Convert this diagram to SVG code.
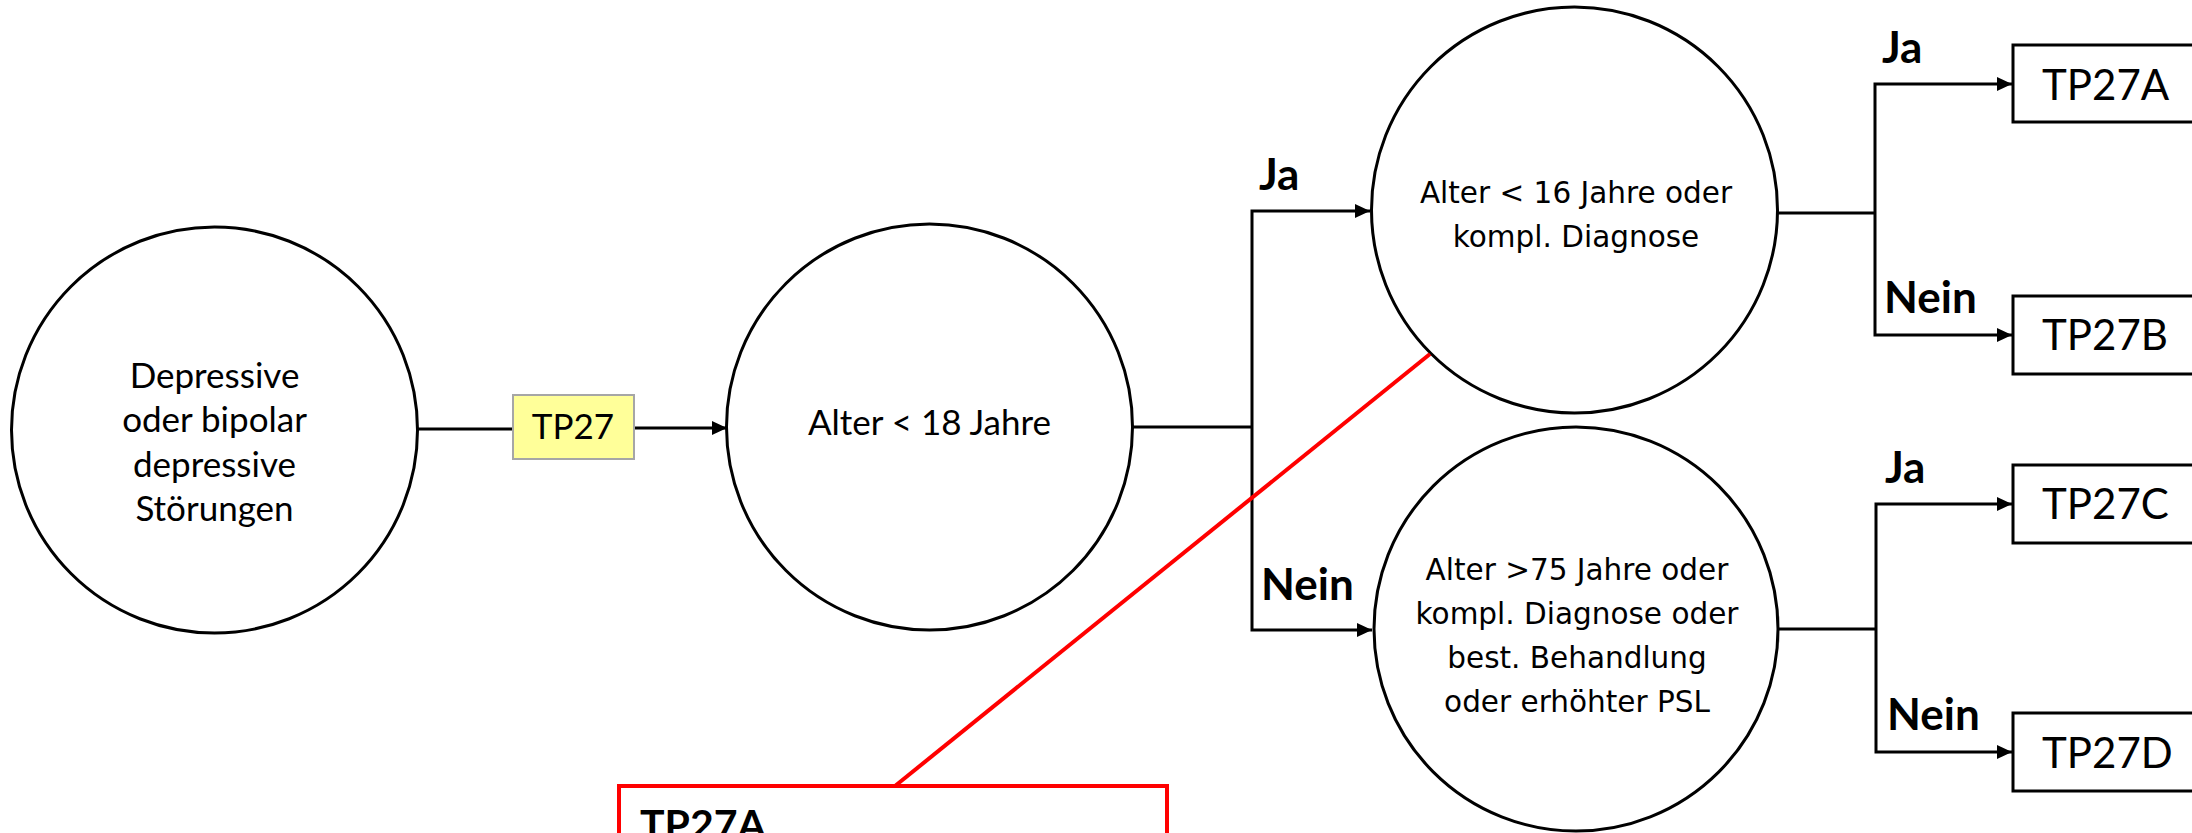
<svg xmlns="http://www.w3.org/2000/svg" width="2192" height="833" viewBox="0 0 2192 833">
  <style>
    .node { fill: #ffffff; stroke: #000000; stroke-width: 3; }
    .box { fill: #ffffff; stroke: #000000; stroke-width: 3; }
    .tag { fill: #ffff99; stroke: #a6a6a6; stroke-width: 2; }
    .wire { fill: none; stroke: #000000; stroke-width: 3; }
    .callout { fill: none; stroke: #ff0000; stroke-width: 4; }
    .t { font-family: Lato, "Liberation Sans", sans-serif; font-size: 35px; fill: #000000; text-anchor: middle; }
    .w { font-family: "DejaVu Sans", Verdana, sans-serif; font-size: 29.5px; fill: #000000; text-anchor: middle; }
    .lbl { font-family: Lato, "Liberation Sans", sans-serif; font-size: 44px; font-weight: bold; fill: #000000; }
    .res { font-family: Lato, "Liberation Sans", sans-serif; font-size: 42px; fill: #000000; }
    .note { font-family: Lato, "Liberation Sans", sans-serif; font-size: 41px; font-weight: bold; fill: #000000; }
  </style>
  <defs>
    <marker id="arrow" markerUnits="userSpaceOnUse" markerWidth="16" markerHeight="14" refX="15" refY="7" orient="auto">
      <path d="M0,0 L15,7 L0,14 Z" fill="#000000"/>
    </marker>
  </defs>

  <!-- connectors -->
  <g id="connectors">
    <line class="wire" x1="417" y1="429" x2="513" y2="429"/>
    <line class="wire" x1="634" y1="428" x2="727" y2="428" marker-end="url(#arrow)"/>

    <polyline class="wire" points="1132,427 1252,427"/>
    <polyline class="wire" points="1252,427 1252,211 1370,211" marker-end="url(#arrow)"/>
    <polyline class="wire" points="1252,427 1252,630 1372,630" marker-end="url(#arrow)"/>

    <polyline class="wire" points="1778,213 1875,213"/>
    <polyline class="wire" points="1875,213 1875,84 2012,84" marker-end="url(#arrow)"/>
    <polyline class="wire" points="1875,213 1875,335 2012,335" marker-end="url(#arrow)"/>

    <polyline class="wire" points="1779,629 1876,629"/>
    <polyline class="wire" points="1876,629 1876,504 2012,504" marker-end="url(#arrow)"/>
    <polyline class="wire" points="1876,629 1876,752 2012,752" marker-end="url(#arrow)"/>
  </g>

  <!-- branch labels -->
  <g id="labels">
    <text class="lbl" x="1259" y="190">Ja</text>
    <text class="lbl" x="1261" y="600">Nein</text>
    <text class="lbl" x="1882" y="63">Ja</text>
    <text class="lbl" x="1884" y="313">Nein</text>
    <text class="lbl" x="1885" y="483">Ja</text>
    <text class="lbl" x="1887" y="730">Nein</text>
  </g>

  <g id="start">
    <circle class="node" cx="214.5" cy="430" r="203"/>
    <text class="t" x="214.5" y="388">Depressive</text>
    <text class="t" x="214.5" y="432">oder bipolar</text>
    <text class="t" x="214.5" y="477">depressive</text>
    <text class="t" x="214.5" y="521">Störungen</text>
  </g>

  <g id="tp27">
    <rect class="tag" x="513" y="395" width="121" height="64"/>
    <text class="t" x="573" y="439">TP27</text>
  </g>

  <g id="age18">
    <circle class="node" cx="929.5" cy="427" r="203"/>
    <text class="t" x="929.5" y="435">Alter &lt; 18 Jahre</text>
  </g>

  <g id="age16">
    <circle class="node" cx="1574.5" cy="210" r="203"/>
    <text class="w" x="1576" y="203">Alter &lt; 16 Jahre oder</text>
    <text class="w" x="1576" y="247">kompl. Diagnose</text>
  </g>

  <g id="age75">
    <circle class="node" cx="1576" cy="629" r="202"/>
    <text class="w" x="1577" y="580">Alter &gt;75 Jahre oder</text>
    <text class="w" x="1577" y="624">kompl. Diagnose oder</text>
    <text class="w" x="1577" y="668">best. Behandlung</text>
    <text class="w" x="1577" y="712">oder erhöhter PSL</text>
  </g>

  <g id="tp27a">
    <rect class="box" x="2013" y="45" width="200" height="77"/>
    <text class="res" x="2042" y="100">TP27A</text>
  </g>
  <g id="tp27b">
    <rect class="box" x="2013" y="296" width="200" height="78"/>
    <text class="res" x="2042" y="350">TP27B</text>
  </g>
  <g id="tp27c">
    <rect class="box" x="2013" y="465" width="200" height="78"/>
    <text class="res" x="2042" y="519">TP27C</text>
  </g>
  <g id="tp27d">
    <rect class="box" x="2013" y="713" width="200" height="78"/>
    <text class="res" x="2042" y="768">TP27D</text>
  </g>

  <!-- red callout pointing at the upper decision -->
  <g id="note">
    <line class="callout" x1="895" y1="786" x2="1430" y2="354"/>
    <rect class="callout" x="619" y="786" width="548" height="120"/>
    <text class="note" x="640" y="839">TP27A</text>
  </g>
</svg>
